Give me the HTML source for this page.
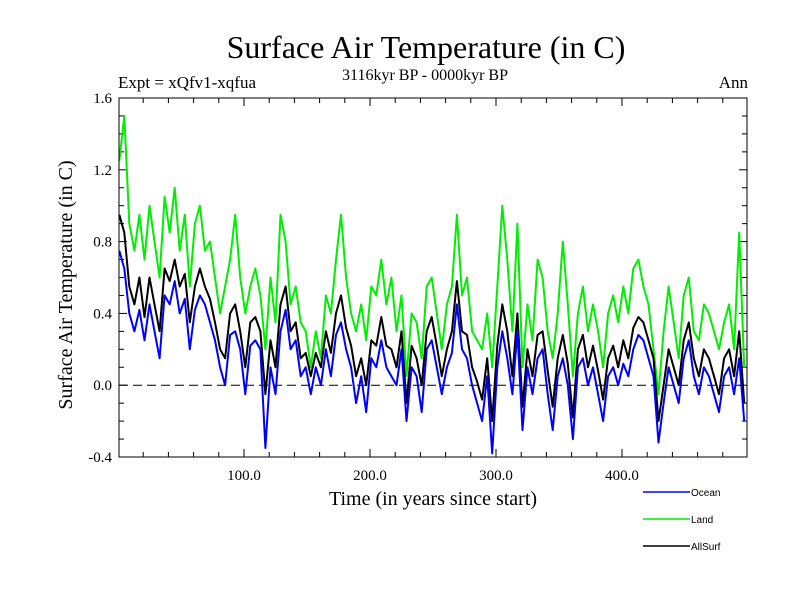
<!DOCTYPE html>
<html><head><meta charset="utf-8"><style>
body{margin:0;background:#fff}
svg{display:block}
text{font-family:"Liberation Serif",serif;fill:#000}
</style></head><body>
<svg id="chart" width="800" height="600">
<text x="426" y="58" font-size="32" text-anchor="middle">Surface Air Temperature (in C)</text>
<text x="425" y="80" font-size="16" text-anchor="middle">3116kyr BP - 0000kyr BP</text>
<text x="118" y="88" font-size="17">Expt = xQfv1-xqfua</text>
<text x="748" y="88" font-size="17" text-anchor="end">Ann</text>
<text transform="translate(72,285) rotate(-90)" font-size="20" text-anchor="middle">Surface Air Temperature (in C)</text>
<text x="433" y="505" font-size="20" text-anchor="middle">Time (in years since start)</text>
<g id="ticks"></g>
<g id="series"></g>
<rect x="119" y="98" width="628" height="359" fill="none" stroke="#000" stroke-width="1"/>
<g>
<line x1="643" y1="492" x2="690" y2="492" stroke="#0000ff" stroke-width="1.5"/>
<text x="691" y="496" font-size="10" style="font-family:'Liberation Sans',sans-serif">Ocean</text>
<line x1="643" y1="519" x2="690" y2="519" stroke="#00ee00" stroke-width="1.5"/>
<text x="691" y="523" font-size="10" style="font-family:'Liberation Sans',sans-serif">Land</text>
<line x1="643" y1="546" x2="690" y2="546" stroke="#000" stroke-width="1.5"/>
<text x="691" y="550" font-size="10" style="font-family:'Liberation Sans',sans-serif">AllSurf</text>
</g>
</svg>
<script>
const startYear = 1;
const yearStep = 4;
const xTickValues = [100, 200, 300, 400];
const xTickLabels = ["100.0", "200.0", "300.0", "400.0"];
const yTickValues = [-0.4, 0.0, 0.4, 0.8, 1.2, 1.6];
const yTickLabels = ["-0.4", "0.0", "0.4", "0.8", "1.2", "1.6"];
const ocean = [0.75,0.65,0.40,0.30,0.42,0.25,0.45,0.30,0.15,0.50,0.45,0.58,0.40,0.48,0.20,0.42,0.50,0.45,0.35,0.25,0.10,0.00,0.28,0.30,0.20,-0.05,0.22,0.25,0.20,-0.35,0.10,-0.05,0.30,0.42,0.20,0.25,0.05,0.10,-0.05,0.10,0.00,0.20,0.05,0.28,0.35,0.20,0.10,-0.10,0.05,-0.15,0.15,0.10,0.25,0.10,0.05,0.00,0.20,-0.20,0.10,0.05,-0.15,0.20,0.25,0.10,-0.05,0.10,0.18,0.45,0.20,0.15,0.00,-0.10,-0.20,0.05,-0.38,0.10,0.30,0.15,-0.05,0.30,-0.25,0.10,-0.05,0.15,0.20,-0.05,-0.25,0.05,0.15,0.00,-0.30,0.10,0.15,0.00,0.10,-0.05,-0.20,0.05,0.10,0.00,0.12,0.05,0.20,0.28,0.25,0.15,0.05,-0.32,-0.10,0.10,0.00,-0.10,0.15,0.25,0.05,-0.05,0.10,0.05,-0.05,-0.15,0.05,0.10,-0.05,0.15,-0.20];
const land = [1.25,1.50,0.90,0.75,0.95,0.70,1.00,0.80,0.60,1.05,0.85,1.10,0.75,0.95,0.55,0.90,1.00,0.75,0.80,0.60,0.40,0.55,0.70,0.95,0.60,0.40,0.55,0.65,0.50,0.20,0.60,0.35,0.95,0.80,0.45,0.55,0.35,0.30,0.10,0.30,0.15,0.50,0.40,0.70,0.95,0.60,0.40,0.30,0.45,0.25,0.55,0.50,0.70,0.45,0.60,0.30,0.50,0.05,0.40,0.35,0.15,0.55,0.60,0.40,0.20,0.45,0.55,0.95,0.50,0.60,0.30,0.25,0.20,0.40,0.10,0.55,1.00,0.70,0.30,0.90,0.10,0.45,0.25,0.70,0.60,0.30,0.15,0.40,0.80,0.45,0.05,0.40,0.55,0.30,0.45,0.30,0.10,0.40,0.50,0.35,0.55,0.40,0.65,0.70,0.55,0.45,0.20,-0.05,0.30,0.55,0.35,0.15,0.50,0.60,0.30,0.25,0.45,0.40,0.30,0.20,0.35,0.45,0.20,0.85,0.10];
const allSurf = [0.95,0.85,0.55,0.45,0.60,0.38,0.60,0.45,0.30,0.65,0.58,0.70,0.55,0.62,0.35,0.55,0.65,0.55,0.48,0.35,0.20,0.15,0.40,0.45,0.30,0.10,0.35,0.38,0.30,-0.05,0.25,0.10,0.45,0.55,0.30,0.35,0.15,0.18,0.05,0.18,0.10,0.30,0.18,0.40,0.50,0.32,0.22,0.05,0.15,0.00,0.25,0.22,0.38,0.22,0.20,0.10,0.30,-0.10,0.22,0.15,0.00,0.30,0.38,0.22,0.05,0.20,0.30,0.58,0.30,0.28,0.10,0.02,-0.08,0.15,-0.20,0.22,0.45,0.30,0.05,0.40,-0.12,0.20,0.05,0.28,0.30,0.08,-0.12,0.15,0.28,0.12,-0.18,0.20,0.28,0.10,0.22,0.08,-0.08,0.15,0.22,0.10,0.25,0.15,0.32,0.38,0.35,0.25,0.15,-0.20,0.00,0.20,0.10,0.00,0.25,0.35,0.15,0.05,0.20,0.15,0.05,-0.05,0.15,0.20,0.05,0.30,-0.10];

const NS = "http://www.w3.org/2000/svg";
const X0 = 118, PXPERYEAR = 1.26, Y0 = 385.2, PXPERUNIT = 179.5;
function xs(v){ return X0 + v * PXPERYEAR; }
function ys(v){ return Y0 - v * PXPERUNIT; }
function mk(tag, attrs, parent){ const e=document.createElementNS(NS,tag); for(const k in attrs) e.setAttribute(k,attrs[k]); parent.appendChild(e); return e; }

const ticks = document.getElementById('ticks');
for (let v = 20; v < 500; v += 20) {
  const big = v % 100 === 0;
  const t = mk('line', {x1:xs(v), x2:xs(v), y1:98, y2:98+(big?8:5), stroke:'#000'}, ticks);
  
  
  const b = mk('line', {x1:xs(v), x2:xs(v), y1:457, y2:457-(big?8:5), stroke:'#000'}, ticks);
  
  
}
xTickValues.forEach((v,i)=>{
  const t = mk('text', {x:xs(v), y:480, 'font-size':15, 'text-anchor':'middle'}, ticks);
  t.textContent = xTickLabels[i];
  
  
});
for (let k = -3; k <= 15; k++) {
  const v = k / 10;
  const big = k % 4 === 0;
  const l = mk('line', {x1:119, x2:119+(big?8:5), y1:ys(v), y2:ys(v), stroke:'#000'}, ticks);
  
  
  const r = mk('line', {x1:747, x2:747-(big?8:5), y1:ys(v), y2:ys(v), stroke:'#000'}, ticks);
  
  
}
yTickValues.forEach((v,i)=>{
  const t = mk('text', {x:112, y:ys(v)+5, 'font-size':15, 'text-anchor':'end'}, ticks);
  t.textContent = yTickLabels[i];
  
  
});
const zl = mk('line', {x1:119, x2:747, y1:ys(0), y2:ys(0), stroke:'#000', 'stroke-dasharray':'9,5'}, ticks);



const series = document.getElementById('series');
function drawLine(vals, color, name){
  const pts = vals.map((v,i)=> xs(startYear + i*yearStep).toFixed(1)+','+ys(v).toFixed(1)).join(' ');
  const p = mk('polyline', {points:pts, fill:'none', stroke:color, 'stroke-width':2, 'stroke-linejoin':'round'}, series);
  
  
}
drawLine(land, '#00ee00', 'land-series');
drawLine(allSurf, '#000000', 'allsurf-series');
drawLine(ocean, '#0000ff', 'ocean-series');
</script>
</body></html>
